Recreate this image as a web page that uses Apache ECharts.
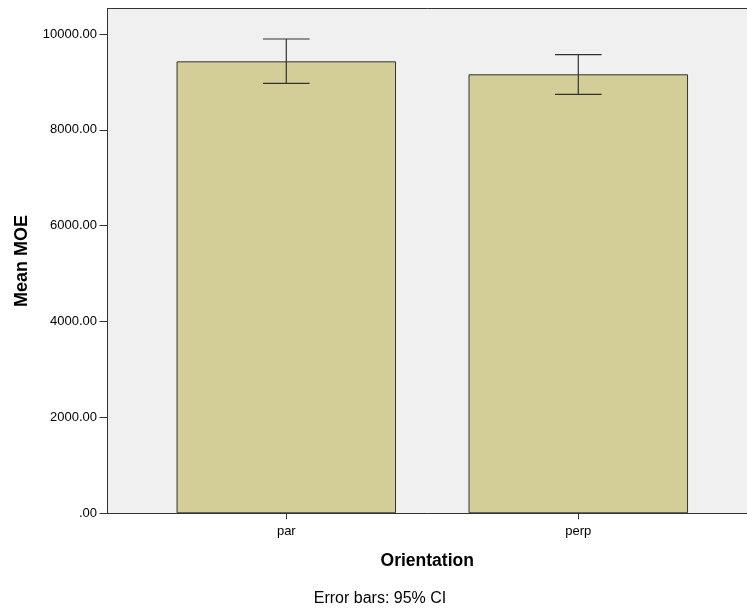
<!DOCTYPE html>
<html><head><meta charset="utf-8">
<script src="https://cdn.jsdelivr.net/npm/echarts@6/dist/echarts.min.js"></script>
<style>html,body{margin:0;padding:0;background:#fff}#c{width:747px;height:611px}</style>
</head><body><div id="c"></div>
<script>
const categories = ['par', 'perp'];
const means = [9430, 9159];
const ciLow = [8971, 8742];
const ciHigh = [9896, 9568];
const yTicks = [0, 2000, 4000, 6000, 8000, 10000];

const positions = categories.map((c, i) => i + 1);
const font = 'Liberation Sans, Arial, sans-serif';
const xMin = 0.3877, xMax = 0.3877 + 639.5 / 292;
const chart = echarts.init(document.getElementById('c'));
chart.setOption({
  animation: false,
  backgroundColor: '#ffffff',
  grid: { left: 107.5, top: 8.5, right: 0, bottom: 97.7, show: true, backgroundColor: '#f0f0f0', borderWidth: 0 },
  xAxis: [{
    type: 'value', min: xMin, max: xMax,
    name: 'Orientation', nameLocation: 'middle', nameGap: 39,
    nameTextStyle: { fontFamily: font, fontWeight: 'bold', fontSize: 17.5, color: '#000' },
    axisLine: { show: true, lineStyle: { color: '#333', width: 1 } },
    axisTick: { show: true, length: 6, customValues: positions, lineStyle: { color: '#333' } },
    axisLabel: { customValues: positions, formatter: v => categories[Math.round(v) - 1] || '', fontFamily: font, fontSize: 13, color: '#000', margin: 12 },
    splitLine: { show: false }
  }, {
    type: 'value', position: 'top', min: xMin, max: xMax,
    axisLine: { show: true, lineStyle: { color: '#333', width: 1 } },
    axisTick: { show: false }, axisLabel: { show: false }, splitLine: { show: false }
  }],
  yAxis: {
    type: 'value', min: 0, max: 10532,
    name: 'Mean MOE', nameLocation: 'middle', nameGap: 76,
    nameTextStyle: { fontFamily: font, fontWeight: 'bold', fontSize: 18, color: '#000' },
    axisLine: { show: true, lineStyle: { color: '#333', width: 1 } },
    axisTick: { show: true, length: 8, customValues: yTicks, lineStyle: { color: '#333' } },
    axisLabel: { customValues: yTicks, formatter: v => v === 0 ? '.00' : v.toFixed(2), fontFamily: font, fontSize: 13, color: '#000', margin: 10.5 },
    splitLine: { show: false }
  },
  series: [
    {
      type: 'bar', barWidth: 219.5,
      data: positions.map((p, i) => [p, means[i]]),
      itemStyle: { color: '#d3ce97', borderColor: '#333', borderWidth: 1 }
    },
    {
      type: 'custom',
      data: positions.map((p, i) => [p, ciLow[i], ciHigh[i]]),
      renderItem: function (params, api) {
        const lo = api.coord([api.value(0), api.value(1)]);
        const hi = api.coord([api.value(0), api.value(2)]);
        const hw = 23.3;
        const st = { stroke: '#333', lineWidth: 1.2 };
        return { type: 'group', children: [
          { type: 'line', shape: { x1: hi[0], y1: hi[1], x2: lo[0], y2: lo[1] }, style: st },
          { type: 'line', shape: { x1: hi[0] - hw, y1: hi[1], x2: hi[0] + hw, y2: hi[1] }, style: st },
          { type: 'line', shape: { x1: lo[0] - hw, y1: lo[1], x2: lo[0] + hw, y2: lo[1] }, style: st }
        ]};
      },
      z: 5
    }
  ],
  graphic: [
    { type: 'text', x: 380, y: 598.7, style: { text: 'Error bars: 95% CI', fontFamily: font, fontSize: 16, fill: '#000', align: 'center', verticalAlign: 'middle' } }
  ]
});
</script></body></html>
